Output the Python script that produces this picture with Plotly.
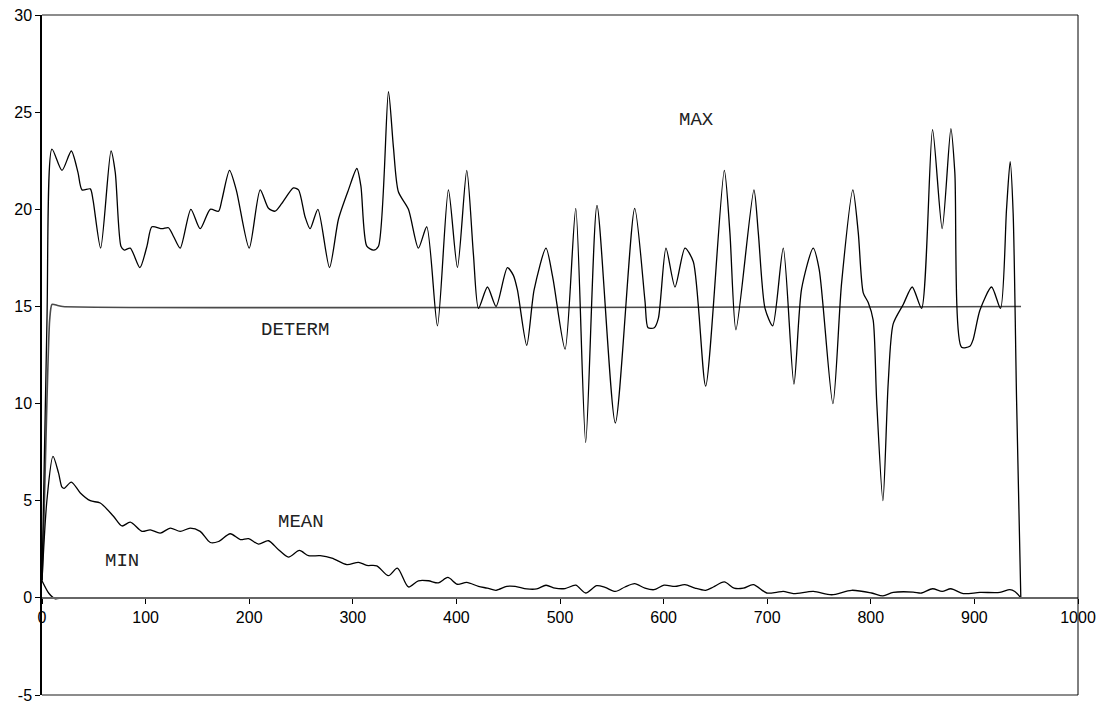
import plotly.graph_objects as go

# ---- data ----
max_x = [0, 4.8, 9.6, 19.3, 28.3, 34.7, 38.6, 46.6, 49.2, 56.6, 66.6, 70.7, 76.2, 79.4, 85.2, 94.5,
         101.3, 106.1, 115.8, 122.1, 127, 133.4, 143.7, 152.7, 162.4, 170.4, 173.7, 181, 187.5, 200,
         210.6, 218.6, 225, 231.5, 242.7, 247.6, 254, 258.8, 266.3, 277.5, 286.2, 295.8, 303.9, 307.8,
         313.5, 320, 324.8, 334.4, 339.2, 344, 353.7, 363.3, 371.4, 381.7, 392.3, 401, 410, 416.4,
         421.3, 430, 438.3, 449.2, 455, 458.9, 467.9, 475, 486.5, 493, 504.9, 515.2, 524.8, 535.7,
         553.4, 572.1, 582, 585, 591, 595, 602.3, 611, 620.6, 628.7, 640.6, 658.6, 664, 669.8, 687.2,
         691.4, 697.9, 705.3, 715.5, 725.8, 733.2, 744.4, 750.2, 763.4, 771.8, 782.7, 787.9, 792.7,
         797.5, 802.3, 805.6, 811.7, 816.8, 821.6, 831.3, 840, 849, 859.6, 868.9, 877.3, 881.1, 887.6,
         895.6, 898.8, 905.3, 916.6, 925.2, 931, 934.5, 937.4, 940.7, 944.8]
max_y = [0.9, 14.3, 23.1, 22.0, 23.0, 21.9, 21.0, 21.05, 20.5, 18.0, 23.0, 21.9, 18.1, 17.9, 18.0, 17.0,
         18.1, 19.1, 19.0, 19.05, 18.6, 18.0, 20.0, 19.0, 20.0, 19.9, 20.5, 22.0, 21.0, 18.0,
         21.0, 20.05, 19.9, 20.3, 21.1, 21.0, 19.6, 19.0, 20.0, 17.0, 19.5, 21.0, 22.1, 21.2,
         18.1, 17.9, 18.1, 26.05, 23.2, 20.9, 20.0, 18.0, 19.1, 14.0, 21.0, 17.0, 22.0, 17.7,
         14.9, 16.0, 15.0, 17.0, 16.6, 15.85, 13.0, 15.85, 18.0, 16.5, 12.8, 20.05, 8.0, 20.2,
         9.0, 20.05, 15.3, 13.9, 13.9, 14.4, 18.0, 16.0, 18.0, 17.3, 10.9, 22.0, 18.8, 13.8, 21.0,
         18.8, 14.9, 14.0, 18.0, 11.0, 15.9, 18.0, 16.9, 10.0, 16.2, 21.0, 18.8, 15.7,
         15.2, 14.3, 10.2, 5.0, 11.05, 14.1, 15.1, 16.0, 14.9, 24.1, 19.0, 24.15, 21.9, 12.9,
         12.95, 13.3, 14.8, 16.0, 14.9, 20.0, 22.45, 19.8, 10.2, 0.0]

determ_x = [0, 1.6, 4.8, 7.4, 9.6, 15, 20, 945]
determ_y = [0.9, 3.4, 10.2, 14.3, 15.1, 15.05, 15.0, 15.0]

mean_x = [0, 4.8, 10.6, 16, 19.3, 21.5, 28.3, 37, 46.6, 56.2, 69, 77.2, 85.2, 96.5, 104.5, 114.1,
          123.8, 133.4, 143.1, 152.7, 162.4, 170.4, 181.7, 191.4, 199.4, 209, 218.6, 228.3, 237.9,
          248.5, 257.2, 268.5, 279.8, 294.3, 305.5, 313.5, 323.1, 334.4, 343, 353.7, 363.3, 373,
          382.6, 391.7, 401, 410, 421.3, 429.8, 438.3, 448.6, 456.7, 467.9, 477.6, 486.5, 495.2,
          504.9, 515.2, 524.8, 535.4, 543.5, 553.4, 562.7, 572.1, 582, 590.7, 600.4, 611, 620.6,
          630.3, 640.6, 648, 658.6, 668, 677, 686.6, 699.5, 709, 715.5, 725.3, 744.6, 762.2, 781.5,
          800.8, 811.7, 821.6, 840.9, 849, 859.6, 868.9, 877.3, 889.2, 905.3, 924.6, 934.2, 939,
          944.8]
mean_y = [0.88, 5.05, 7.28, 6.42, 5.7, 5.64, 5.96, 5.4, 5.0, 4.88, 4.2, 3.7, 3.9, 3.42, 3.5, 3.33,
          3.59, 3.42, 3.59, 3.42, 2.85, 2.9, 3.3, 3.0, 3.05, 2.77, 2.94, 2.48, 2.1,
          2.44, 2.17, 2.17, 2.05, 1.71, 1.83, 1.67, 1.65, 1.14, 1.53, 0.56, 0.88, 0.88,
          0.77, 1.05, 0.7, 0.8, 0.59, 0.5, 0.39, 0.59, 0.59, 0.46, 0.46, 0.65, 0.5,
          0.48, 0.65, 0.25, 0.63, 0.54, 0.33, 0.56, 0.73, 0.5, 0.42, 0.65, 0.59, 0.68,
          0.5, 0.39, 0.56, 0.82, 0.5, 0.5, 0.68, 0.25, 0.28, 0.33, 0.22, 0.33, 0.16, 0.39,
          0.25, 0.1, 0.28, 0.3, 0.25, 0.47, 0.33, 0.47, 0.22, 0.28, 0.28, 0.42, 0.33,
          0.0]

min_x = [0, 6.4, 12.8, 20, 945]
min_y = [0.88, 0.25, -0.05, 0.0, 0.0]

x_ticks = [0, 100, 200, 300, 400, 500, 600, 700, 800, 900, 1000]
y_ticks = [-5, 0, 5, 10, 15, 20, 25, 30]

labels = ["MAX", "DETERM", "MEAN", "MIN"]
label_x = [632, 244, 250, 77]
label_y = [24.6, 13.8, 3.9, 1.9]

fig = go.Figure()
fig.add_trace(go.Scatter(x=determ_x, y=determ_y, mode="lines",
                         line=dict(color="#4a4a4a", width=1.6, shape="spline", smoothing=0.6)))
fig.add_trace(go.Scatter(x=min_x, y=min_y, mode="lines",
                         line=dict(color="black", width=1.3, shape="spline", smoothing=0.6)))
fig.add_trace(go.Scatter(x=mean_x, y=mean_y, mode="lines",
                         line=dict(color="black", width=1.3, shape="spline", smoothing=0.8)))
fig.add_trace(go.Scatter(x=max_x, y=max_y, mode="lines",
                         line=dict(color="black", width=1.3, shape="spline", smoothing=0.7)))

for t, lx, ly in zip(labels, label_x, label_y):
    fig.add_annotation(x=lx, y=ly, text=t, showarrow=False,
                       font=dict(family="Courier New, Liberation Mono, monospace", size=19, color="#222222"))

# frame
fig.add_shape(type="line", xref="paper", yref="paper", x0=0, x1=1, y0=1, y1=1,
              line=dict(color="#666666", width=1.5))
fig.add_shape(type="line", xref="paper", yref="paper", x0=0, x1=1, y0=0, y1=0,
              line=dict(color="#666666", width=1.5))
fig.add_shape(type="line", xref="paper", yref="paper", x0=1, x1=1, y0=0, y1=1,
              line=dict(color="black", width=1))

fig.update_layout(
    width=1100, height=704,
    margin=dict(l=42, r=22, t=15, b=9, autoexpand=False),
    plot_bgcolor="white", paper_bgcolor="white",
    showlegend=False,
    hovermode=False,
    font=dict(family="Arial, Liberation Sans, sans-serif", size=16, color="black"),
    xaxis=dict(range=[0, 1000], tickvals=x_ticks, ticktext=[str(v) for v in x_ticks],
               showgrid=False, zeroline=False, showline=True, linecolor="#666666", linewidth=1.5,
               ticks="outside", ticklen=5, tickcolor="black", tickwidth=1,
               anchor="free", position=5 / 35, automargin=False, ticklabeloverflow="allow"),
    yaxis=dict(range=[-5, 30], tickvals=y_ticks, ticktext=[str(v) for v in y_ticks],
               showgrid=False, zeroline=False, showline=True, linecolor="black", linewidth=1.5,
               ticks="outside", ticklen=5, tickcolor="black", tickwidth=1, automargin=False,
               ticklabeloverflow="allow"),
)

fig.write_html("out.html", config={"displayModeBar": False},
               post_script="document.body.style.margin='0';document.body.style.overflow='hidden';")
